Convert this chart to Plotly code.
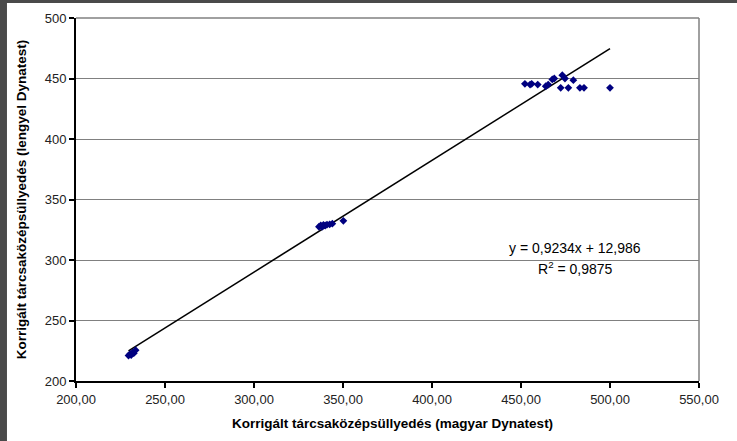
import plotly.graph_objects as go

# Corrected centre deflection: Hungarian Dynatest (x) vs Polish Dynatest (y)
magyar = [229.5, 230.5, 231.0, 231.8, 232.5, 233.5,
          336.5, 337.5, 338.2, 339.0, 340.0, 341.0, 342.5, 344.0, 350.2,
          452.2, 455.1, 456.0, 459.4, 463.9, 465.3, 467.6, 468.7, 473.2,
          474.7, 472.3, 476.6, 479.4, 483.1, 485.4, 500.0]
lengyel = [221.0, 222.5, 221.5, 223.5, 223.0, 225.5,
           327.5, 328.5, 327.3, 329.0, 328.5, 329.2, 329.5, 330.0, 332.4,
           445.6, 445.0, 445.6, 445.0, 443.6, 445.0, 449.2, 450.0, 452.7,
           450.0, 442.3, 442.3, 448.6, 442.3, 442.3, 442.3]

# Linear trend reported in the equation label
slope = 0.9234
intercept = 12.986
r_squared = 0.9875

x_ticks = [200, 250, 300, 350, 400, 450, 500, 550]
x_tick_labels = ["200,00", "250,00", "300,00", "350,00", "400,00", "450,00", "500,00", "550,00"]
y_ticks = [200, 250, 300, 350, 400, 450, 500]
y_tick_labels = ["200", "250", "300", "350", "400", "450", "500"]

x_title = "Korrigált tárcsaközépsüllyedés (magyar Dynatest)"
y_title = "Korrigált tárcsaközépsüllyedés (lengyel Dynatest)"

font_family = "Liberation Sans, Arial, sans-serif"

trend_x = [min(magyar), max(magyar)]
trend_y = [slope * v + intercept for v in trend_x]

fig = go.Figure()
fig.add_trace(go.Scatter(
    x=trend_x, y=trend_y, mode="lines",
    line=dict(color="black", width=1.6),
    hoverinfo="skip", showlegend=False,
))
fig.add_trace(go.Scatter(
    x=magyar, y=lengyel, mode="markers",
    marker=dict(symbol="diamond", size=6, color="#000080",
                line=dict(width=0)),
    showlegend=False,
))

eq_line1 = "y = {}x + {}".format(str(slope).replace(".", ","),
                                  f"{intercept:.3f}".replace(".", ","))
eq_line2 = "R<sup>2</sup> = {}".format(str(r_squared).replace(".", ","))

fig.add_annotation(x=480.5, y=310.1, xref="x", yref="y", text=eq_line1,
                   showarrow=False, font=dict(family=font_family, size=14, color="black"))
fig.add_annotation(x=480.5, y=293.0, xref="x", yref="y", text=eq_line2,
                   showarrow=False, font=dict(family=font_family, size=14, color="black"))

# X axis title placed beneath the tick labels
fig.add_annotation(x=0.508, y=-0.118, xref="paper", yref="paper", text=x_title,
                   showarrow=False, yanchor="middle", xanchor="center",
                   font=dict(family=font_family, size=13.5, color="black", weight="bold"))
fig.add_annotation(x=-0.087, y=0.5, xref="paper", yref="paper", text=y_title,
                   showarrow=False, textangle=-90, xanchor="center", yanchor="middle",
                   font=dict(family=font_family, size=13.5, color="black", weight="bold"))

shapes = [
    # grey plot-area border on the top and right
    dict(type="line", xref="paper", yref="paper", x0=0, x1=1, y0=1, y1=1,
         line=dict(color="#808080", width=1.5)),
    dict(type="line", xref="paper", yref="paper", x0=1, x1=1, y0=0, y1=1,
         line=dict(color="#808080", width=1.5)),
    # dark window frame on the top and left
    dict(type="rect", xref="paper", yref="paper", x0=-0.13, x1=1.07,
         y0=1.0415, y1=1.06, fillcolor="#4a4a4a", line=dict(width=0), layer="below"),
    dict(type="rect", xref="paper", yref="paper", x0=-0.13, x1=-0.1108,
         y0=-0.17, y1=1.06, fillcolor="#4a4a4a", line=dict(width=0), layer="below"),
]

fig.update_layout(
    width=737, height=441,
    margin=dict(l=76, r=38, t=18, b=60),
    paper_bgcolor="white", plot_bgcolor="white",
    font=dict(family=font_family, size=13, color="#222222"),
    shapes=shapes,
    xaxis=dict(
        range=[200, 550], tickvals=x_ticks, ticktext=x_tick_labels,
        showgrid=False, zeroline=False,
        showline=True, linecolor="black", linewidth=2,
        ticks="outside", ticklen=5, tickwidth=1.5, tickcolor="black",
        tickfont=dict(size=13, color="#222222"),
    ),
    yaxis=dict(
        range=[200, 500], tickvals=y_ticks, ticktext=y_tick_labels,
        showgrid=True, gridcolor="#808080", gridwidth=1.2,
        zeroline=False,
        showline=True, linecolor="black", linewidth=2,
        ticks="outside", ticklen=5, tickwidth=1.5, tickcolor="black",
        tickfont=dict(size=13, color="#222222"),
    ),
)

fig.write_html("out.html")
